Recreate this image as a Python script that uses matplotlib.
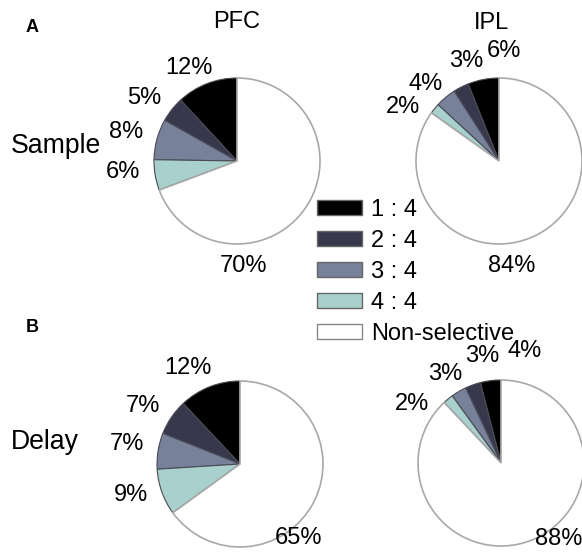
import numpy as np
import matplotlib.pyplot as plt
from matplotlib.patches import Patch

plt.rcParams['font.family'] = ['Liberation Sans', 'DejaVu Sans']

# categories and values (percent of neurons)
categories = ['1 : 4', '2 : 4', '3 : 4', '4 : 4', 'Non-selective']
pfc_sample = [12, 5, 8, 6, 70]
ipl_sample = [6, 3, 4, 2, 84]
pfc_delay = [12, 7, 7, 9, 65]
ipl_delay = [4, 3, 3, 2, 88]

colors = ['#000000', '#38384c', '#77829a', '#a8d0cc', '#ffffff']

# layout: pie centres in pixels (y from top), radius, label offsets (in radius units)
W, H = 582, 560
R = 83
pies = [
    (pfc_sample, (237, 161), [(-0.58, 1.12), (-1.12, 0.76), (-1.34, 0.35), (-1.37, -0.13), (0.08, -1.26)]),
    (ipl_sample, (499, 161), [(0.06, 1.32), (-0.39, 1.21), (-0.88, 0.93), (-1.16, 0.65), (0.15, -1.27)]),
    (pfc_delay, (240, 464), [(-0.63, 1.16), (-1.17, 0.70), (-1.36, 0.24), (-1.31, -0.37), (0.71, -0.89)]),
    (ipl_delay, (501, 463), [(0.28, 1.35), (-0.23, 1.29), (-0.67, 1.07), (-1.07, 0.71), (0.70, -0.91)]),
]

fig = plt.figure(figsize=(W / 100, H / 100), dpi=100)
ax = fig.add_axes([0, 0, 1, 1])

fs = 17
for values, (cx, cy), offsets in pies:
    wedges, _ = ax.pie(values, colors=colors, startangle=90, counterclock=True,
                       center=(cx, H - cy), radius=R,
                       wedgeprops=dict(edgecolor='#4a4a55', linewidth=0.8))
    wedges[-1].set_edgecolor('#a8a8a8')
    wedges[-1].set_linewidth(1.2)
    for v, (dx, dy) in zip(values, offsets):
        ax.text(cx + dx * R, H - cy + dy * R, f'{v}%', fontsize=fs,
                ha='center', va='center')

# pie() resets the limits, so set them afterwards
ax.set_xlim(0, W)
ax.set_ylim(0, H)
ax.set_aspect('equal')
ax.axis('off')

ax.text(237, H - 22, 'PFC', fontsize=fs, ha='center', va='center')
ax.text(491, H - 23, 'IPL', fontsize=fs, ha='center', va='center')
ax.text(32, H - 28, 'A', fontsize=13, fontweight='bold', ha='center', va='center')
ax.text(32, H - 327, 'B', fontsize=13, fontweight='bold', ha='center', va='center')
ax.text(11, H - 146, 'Sample', fontsize=19.2, ha='left', va='center')
ax.text(11, H - 442, 'Delay', fontsize=19.2, ha='left', va='center')

handles = [Patch(facecolor=c, edgecolor='#888888' if i == 4 else '#666666', linewidth=1)
           for i, c in enumerate(colors)]
ax.legend(handles, categories, loc='upper left', bbox_to_anchor=(317 / W, 1 - 199 / H),
          frameon=False, fontsize=fs, handlelength=1.9, handleheight=0.6,
          labelspacing=0.38, handletextpad=0.4, borderpad=0, borderaxespad=0)

fig.savefig('out.png', dpi=100)
